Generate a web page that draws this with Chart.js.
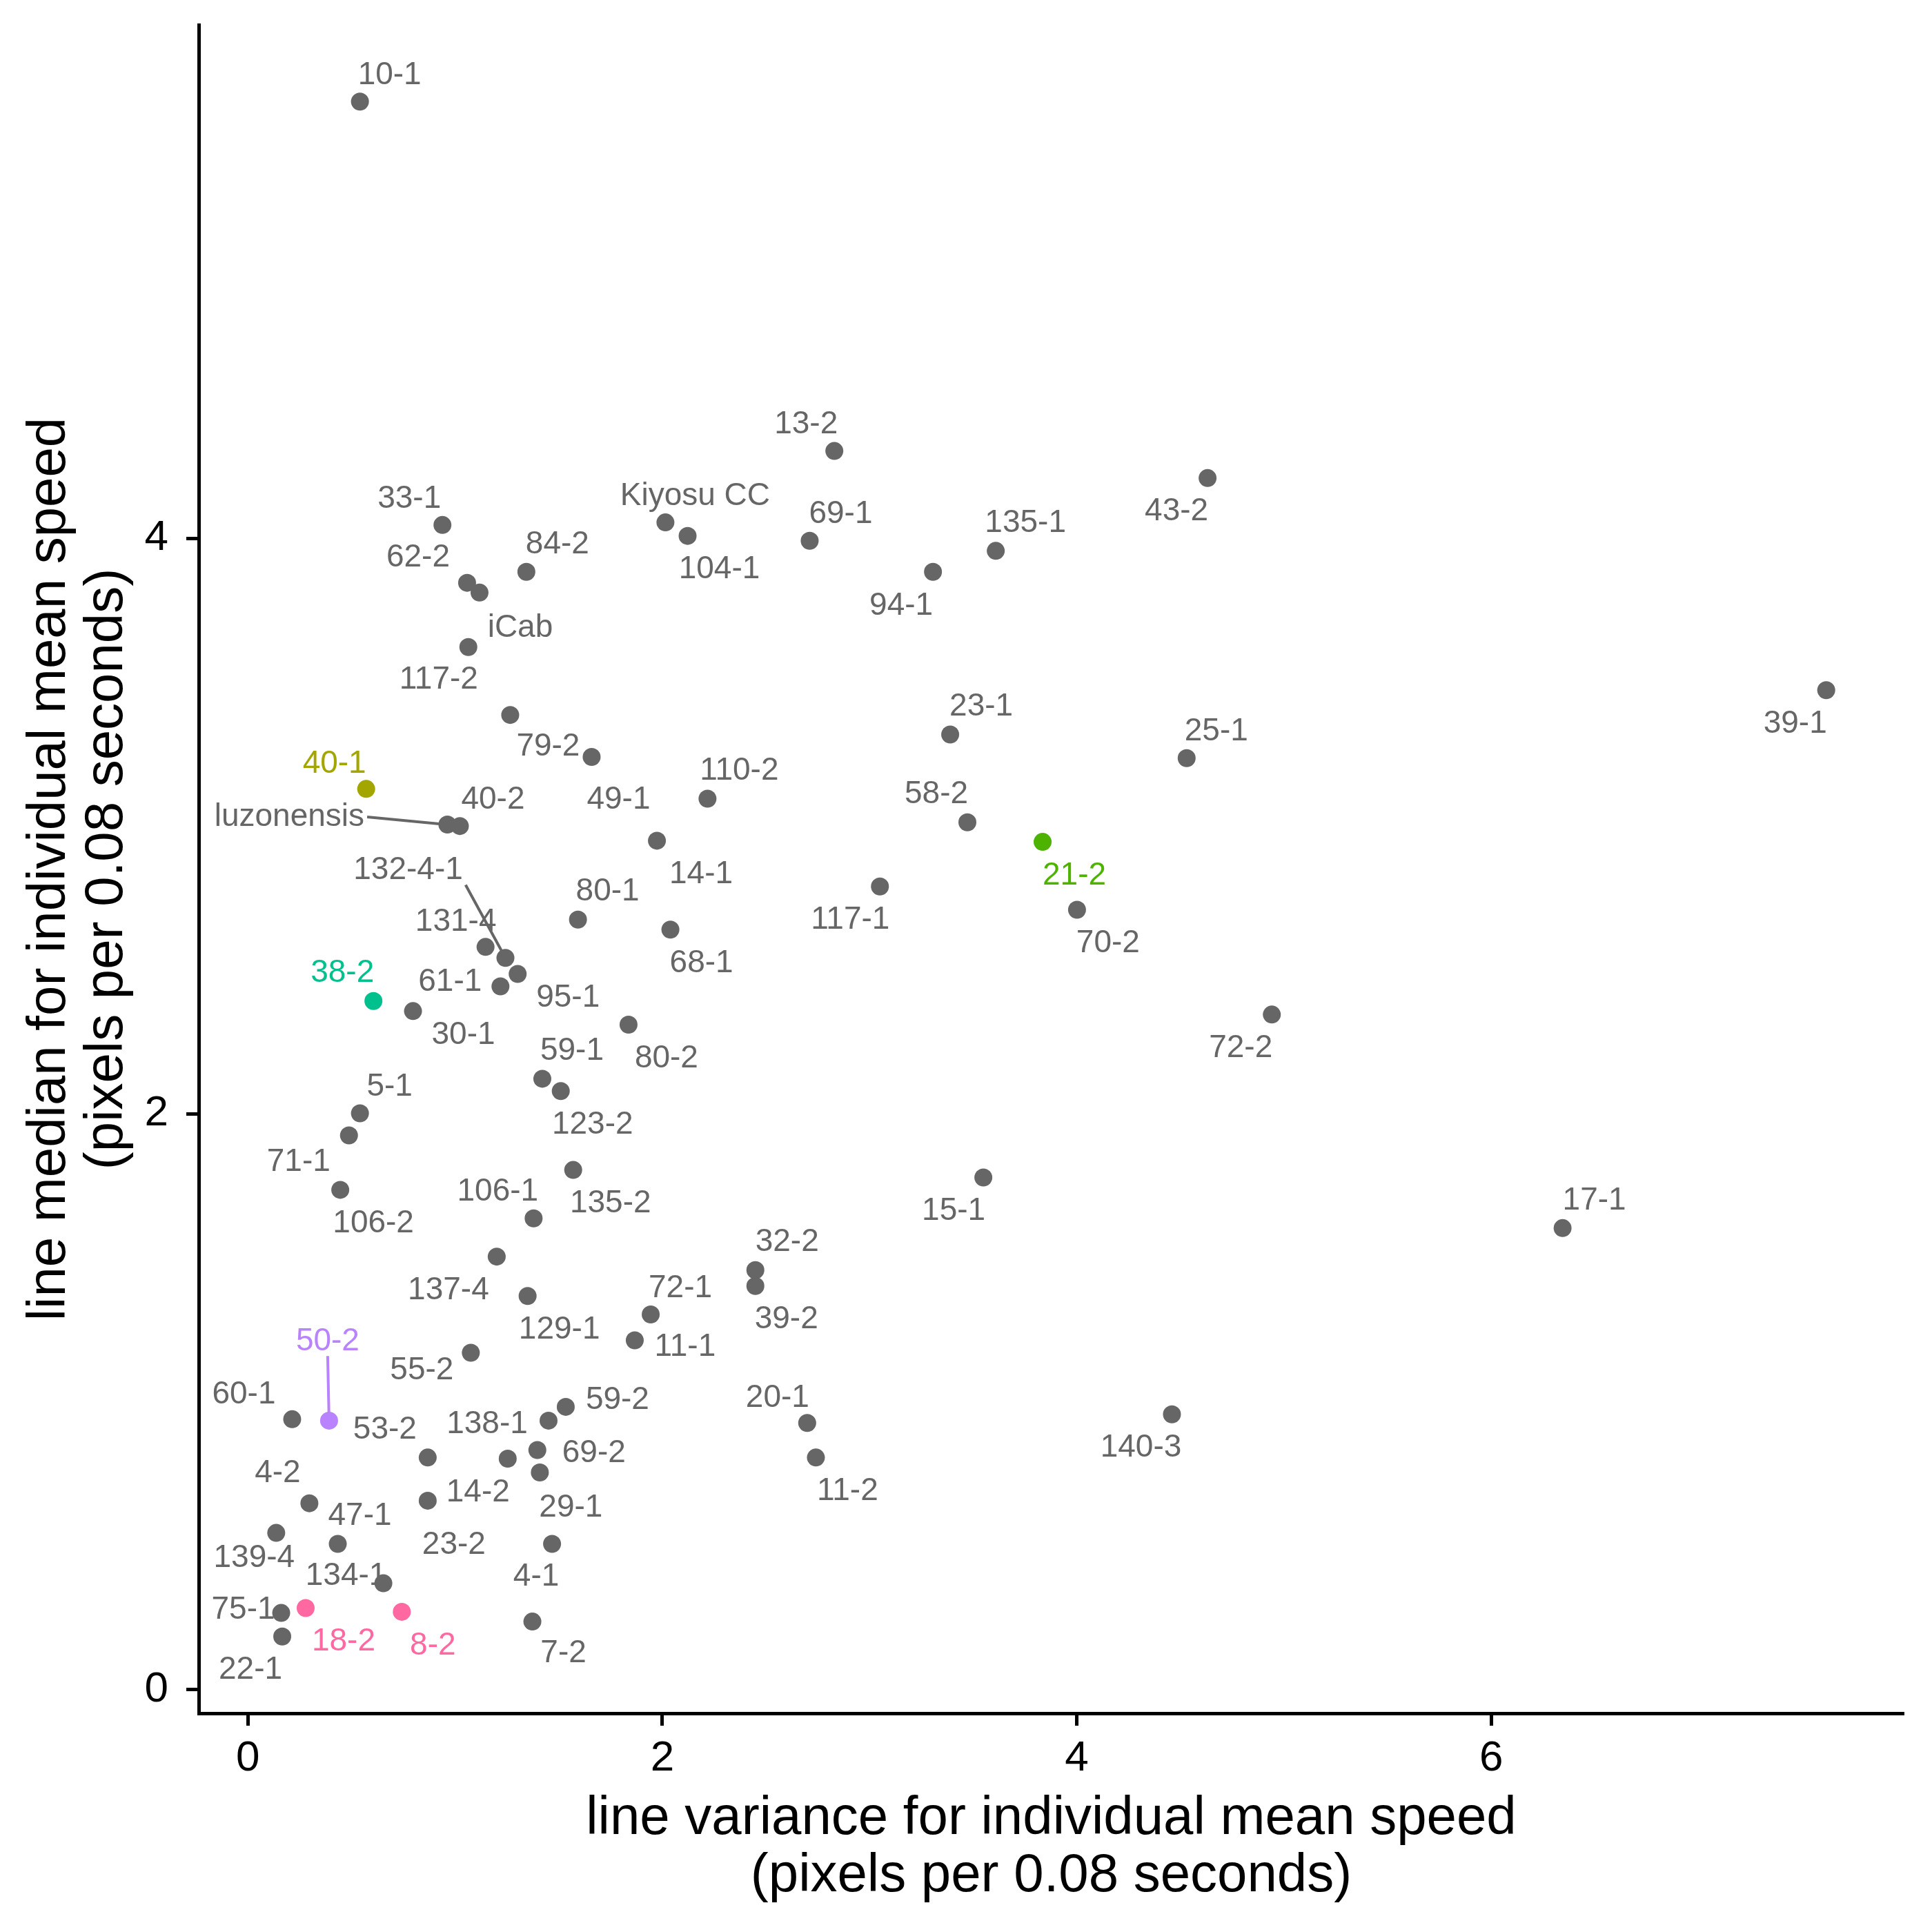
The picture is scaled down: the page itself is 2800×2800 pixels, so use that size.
<!DOCTYPE html>
<html>
<head>
<meta charset="utf-8">
<script src="https://cdn.jsdelivr.net/npm/chart.js@4.4.1/dist/chart.umd.min.js"></script>
<style>
  html, body { margin: 0; padding: 0; background: #ffffff; }
  #wrap { width: 2800px; height: 2800px; }
</style>
</head>
<body>
<div id="wrap"><canvas id="c" width="2800" height="2800"></canvas></div>
<script>
// ---------------- data ----------------
const names = ['10-1','13-2','43-2','33-1','Kiyosu CC','104-1','69-1','135-1','84-2','94-1',
  '62-2','iCab','117-2','39-1','79-2','23-1','25-1','40-1','110-2','luzonensis',
  '40-2','49-1','58-2','14-1','21-2','132-4-1','80-1','117-1','70-2','131-4',
  '68-1','38-2','61-1','95-1','30-1','72-2','80-2','59-1','123-2','5-1',
  '71-1','135-2','15-1','106-2','106-1','17-1','137-4','32-2','39-2','129-1',
  '72-1','11-1','55-2','140-3','59-2','60-1','50-2','138-1','20-1','69-2',
  '29-1','53-2','11-2','14-2','4-2','23-2','47-1','139-4','4-1','134-1',
  '75-1','18-2','8-2','22-1','7-2'];
const variance = [0.541,2.830,4.631,0.939,2.015,2.122,2.711,3.609,1.344,3.306,
  1.058,1.118,1.064,7.616,1.266,3.389,4.530,0.571,2.218,0.963,
  1.023,1.659,3.472,1.974,3.835,1.243,1.593,3.050,4.001,1.147,
  2.039,0.606,1.219,1.302,0.797,4.941,1.837,1.421,1.510,0.541,
  0.488,1.570,3.549,0.446,1.379,6.344,1.201,2.449,2.449,1.350,
  1.944,1.867,1.076,4.459,1.534,0.214,0.392,1.451,2.699,1.397,
  1.409,0.868,2.741,1.254,0.297,0.868,0.434,0.137,1.468,0.654,
  0.161,0.279,0.743,0.166,1.373];
const median = [5.517,4.303,4.209,4.046,4.055,4.008,3.991,3.956,3.883,3.883,
  3.845,3.811,3.622,3.472,3.386,3.318,3.236,3.129,3.095,3.005,
  3.000,3.240,3.013,2.949,2.945,2.542,2.675,2.790,2.709,2.580,
  2.640,2.392,2.443,2.486,2.357,2.345,2.310,2.122,2.079,2.002,
  1.925,1.805,1.779,1.736,1.637,1.603,1.504,1.457,1.402,1.367,
  1.303,1.213,1.170,0.956,0.982,0.939,0.934,0.934,0.926,0.832,
  0.754,0.806,0.806,0.802,0.647,0.656,0.506,0.544,0.506,0.369,
  0.266,0.283,0.270,0.184,0.236];
const xTickValues = [0, 2, 4, 6];
const yTickValues = [0, 2, 4];
const xTitle = ['line variance for individual mean speed', '(pixels per 0.08 seconds)'];
const yTitle = ['line median for individual mean speed', '(pixels per 0.08 seconds)'];

// ---------------- layout / style (not data) ----------------
const labelOffsets = [[43,-41],[-41,-41],[-45,45],[-48,-41],[43,-41],[46,46],[45,-41],[43,-43],[45,-43],[-46,46],
  [-71,-39],[59,48],[-43,45],[-45,46],[55,43],[45,-43],[43,-41],[-46,-39],[46,-43],[-229,-14],
  [48,-41],[39,59],[-45,-43],[64,46],[46,46],[-141,-130],[43,-43],[-43,46],[45,46],[-43,-39],
  [45,46],[-45,-43],[-73,-9],[73,32],[73,32],[-45,46],[55,46],[43,-43],[46,46],[43,-41],
  [-73,36],[54,46],[-43,46],[48,46],[-52,-41],[46,-43],[-70,46],[46,-43],[45,46],[46,46],
  [43,-41],[73,7],[-71,23],[-45,46],[75,-13],[-70,-39],[-2,-118],[-89,2],[-43,-39],[82,2],
  [45,48],[-62,-43],[46,46],[-43,46],[-46,-46],[38,61],[32,-43],[-32,34],[-23,45],[-54,-13],
  [-55,-7],[55,46],[45,46],[-46,46],[45,43]];
const labelBaselineShift = 3;
const segmentLabels = ['luzonensis', '132-4-1', '50-2'];
const highlightColors = { '40-1': '#A3A500', '21-2': '#4DB300', '38-2': '#00C08D', '50-2': '#B983FF', '18-2': '#FF68A1', '8-2': '#FF68A1' };
const baseColor = '#666666';
const FONT = '"Liberation Sans", Arial, Helvetica, sans-serif';
const colorOf = n => highlightColors[n] || baseColor;

function expanded(arr) {
  const lo = Math.min(...arr), hi = Math.max(...arr), r = hi - lo;
  return [lo - 0.05 * r, hi + 0.05 * r];
}
const [xMin, xMax] = expanded(variance);
const [yMin, yMax] = expanded(median);

const points = names.map((n, i) => ({ x: variance[i], y: median[i] }));
const pointColors = names.map(colorOf);

const labelPlugin = {
  id: 'repelLabels',
  afterDatasetsDraw(chart) {
    const ctx = chart.ctx;
    const meta = chart.getDatasetMeta(0);
    const fontSize = 46;
    ctx.save();
    ctx.font = fontSize + 'px ' + FONT;
    ctx.textAlign = 'center';
    ctx.textBaseline = 'middle';
    meta.data.forEach((el, i) => {
      const n = names[i];
      const lx = el.x + labelOffsets[i][0];
      const ly = el.y + labelOffsets[i][1] + labelBaselineShift;
      const col = colorOf(n);
      if (segmentLabels.includes(n)) {
        const w = ctx.measureText(n).width;
        const h = fontSize * 0.75;
        const left = lx - w / 2 - 4, right = lx + w / 2 + 4, top = ly - h / 2 - 4, bottom = ly + h / 2 + 4;
        const sx = el.x < left ? left : (el.x > right ? right : lx);
        const sy = el.y < top ? top : (el.y > bottom ? bottom : ly);
        const dx = el.x - sx, dy = el.y - sy, d = Math.hypot(dx, dy);
        const ex = el.x - dx / d * 4, ey = el.y - dy / d * 4;
        ctx.strokeStyle = col;
        ctx.lineWidth = 4;
        ctx.beginPath();
        ctx.moveTo(sx, sy);
        ctx.lineTo(ex, ey);
        ctx.stroke();
      }
      ctx.fillStyle = col;
      ctx.fillText(n, lx, ly);
    });
    ctx.restore();
  }
};

new Chart(document.getElementById('c'), {
  type: 'scatter',
  data: {
    datasets: [{
      data: points,
      pointBackgroundColor: pointColors,
      pointBorderWidth: 0,
      pointRadius: 13,
      pointHoverRadius: 13
    }]
  },
  options: {
    responsive: false,
    animation: false,
    devicePixelRatio: 1,
    layout: { padding: { top: 36, right: 41, left: 0, bottom: 0 } },
    plugins: { legend: { display: false }, tooltip: { enabled: false } },
    scales: {
      x: {
        type: 'linear', min: xMin, max: xMax,
        afterBuildTicks: s => { s.ticks = xTickValues.map(v => ({ value: v })); },
        afterFit: s => { s.height = 2800 - 2483; s.paddingLeft = 0; s.paddingRight = 0; },
        ticks: { color: '#000', font: { size: 62, family: FONT }, padding: 11, maxRotation: 0, autoSkip: false },
        grid: { drawOnChartArea: false, drawTicks: true, tickLength: 18, tickWidth: 5, tickColor: '#000' },
        border: { display: true, color: '#000', width: 5 },
        title: { display: true, text: xTitle, color: '#000', font: { size: 78, family: FONT, lineHeight: 1.064 }, padding: { top: 0, bottom: 39 } }
      },
      y: {
        type: 'linear', min: yMin, max: yMax,
        afterBuildTicks: s => { s.ticks = yTickValues.map(v => ({ value: v })); },
        afterFit: s => { s.width = 288; s.paddingTop = 0; s.paddingBottom = 0; },
        ticks: { color: '#000', font: { size: 62, family: FONT }, padding: 26, autoSkip: false },
        grid: { drawOnChartArea: false, drawTicks: true, tickLength: 18, tickWidth: 5, tickColor: '#000' },
        border: { display: true, color: '#000', width: 5 },
        title: { display: true, text: yTitle, color: '#000', font: { size: 78, family: FONT, lineHeight: 1.064 }, padding: { top: 31, bottom: 0 } }
      }
    }
  },
  plugins: [labelPlugin]
});
</script>
</body>
</html>
